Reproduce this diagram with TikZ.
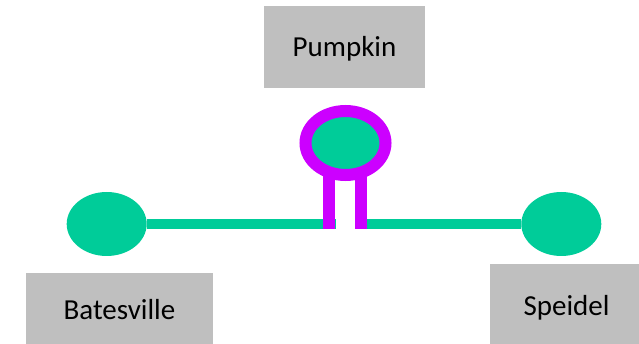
\documentclass[tikz,border=0pt]{standalone}
\usepackage{fontspec}
\setmainfont{Carlito}
\usepackage{xcolor}
\usepackage{tikz}
\usetikzlibrary{positioning, shapes.geometric, backgrounds}

\definecolor{stopgreen}{RGB}{0,204,153}
\definecolor{ringpurple}{RGB}{204,0,255}
\definecolor{boxgray}{RGB}{191,191,191}

\begin{document}
\begin{tikzpicture}[
    x=1pt, y=-1pt,
    namebox/.style={rectangle, fill=boxgray, inner sep=0pt, font=\fontsize{29}{35}\selectfont},
    stop/.style={ellipse, fill=stopgreen, minimum width=80pt, minimum height=64pt, inner sep=0pt},
    track/.style={stopgreen, line width=10pt},
    leg/.style={ringpurple, line width=12pt},
]
    \useasboundingbox (0,0) rectangle (639,344);

    % Place names
    \node[namebox, minimum width=161pt, text height=50.7pt, text depth=31.3pt] (pumpkin) at (344.5,47) {Pumpkin};
    \node[namebox, minimum width=187pt, text height=46pt, text depth=28pt] (batesville) at (119.5,310) {Batesville};
    \node[namebox, minimum width=153pt, text height=52pt, text depth=34pt] (speidel) at (566.5,307) {Speidel};

    % Stops
    \node[stop] (batesvilleStop) at (106.7,224) {};
    \node[stop] (speidelStop) at (561.3,224) {};
    \node[stop, draw=ringpurple, line width=12pt] (pumpkinStop) at (345.5,143) {};

    % Ends at the junction
    \coordinate (trackL) at (336,224);
    \coordinate (trackR) at (360.7,224);
    \coordinate (legL) at (329,229);
    \coordinate (legR) at (361,229);

    % Track and legs under the stops
    \begin{scope}[on background layer]
        \draw[track] (batesvilleStop) -- (trackL);
        \draw[track] (trackR) -- (speidelStop);
        \draw[leg] (legL |- pumpkinStop.center) -- (legL);
        \draw[leg] (legR |- pumpkinStop.center) -- (legR);
    \end{scope}
\end{tikzpicture}
\end{document}
